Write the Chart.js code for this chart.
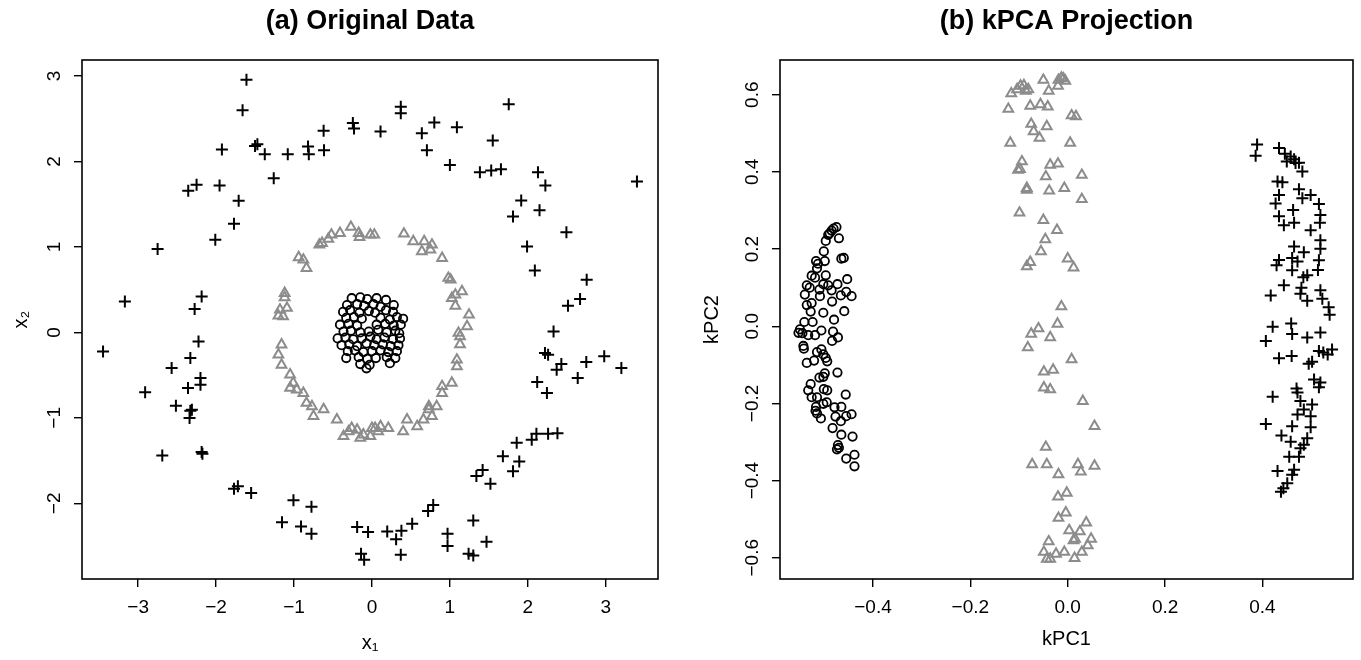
<!DOCTYPE html>
<html>
<head>
<meta charset="utf-8">
<script src="https://cdn.jsdelivr.net/npm/chart.js@4"></script>
<style>
  html, body { margin: 0; padding: 0; background: #fff; }
  #wrap { position: relative; width: 1361px; height: 660px; }
  #left { position: absolute; left: 0; top: 0; }
  #right { position: absolute; left: 680px; top: 0; }
</style>
</head>
<body>
<div id="wrap">
  <canvas id="left" width="680" height="660"></canvas>
  <canvas id="right" width="681" height="660"></canvas>
</div>
<script>
// (a) original data: inner blob, middle ring, outer ring
const origCircles = [
  [-0.26, 0.40], [-0.15, 0.41], [-0.06, 0.39], [0.06, 0.40], [0.18, 0.38],
  [-0.32, 0.32], [-0.19, 0.33], [-0.10, 0.31], [0.02, 0.33], [0.11, 0.30], [0.28, 0.32],
  [-0.37, 0.24], [-0.28, 0.26], [-0.16, 0.23], [-0.04, 0.25], [0.04, 0.23], [0.18, 0.26], [0.27, 0.24],
  [-0.33, 0.17], [-0.23, 0.18], [-0.13, 0.16], [0.11, 0.17], [0.23, 0.15], [0.32, 0.18], [0.40, 0.16],
  [-0.41, 0.09], [-0.30, 0.10], [-0.19, 0.08], [0.06, 0.09], [0.17, 0.10], [0.28, 0.08], [0.37, 0.09],
  [-0.365, 0.01], [-0.27, 0.02], [-0.15, 0.00], [-0.04, 0.01], [0.08, 0.03], [0.19, 0.00], [0.30, 0.02], [0.35, -0.01],
  [-0.44, -0.07], [-0.34, -0.06], [-0.24, -0.08], [-0.13, -0.07], [-0.02, -0.05], [0.06, -0.08], [0.16, -0.06], [0.27, -0.08], [0.36, -0.07],
  [-0.39, -0.15], [-0.29, -0.14], [-0.19, -0.16], [-0.07, -0.13], [0.03, -0.15], [0.14, -0.14], [0.24, -0.16], [0.34, -0.15],
  [-0.31, -0.22], [-0.22, -0.21], [-0.11, -0.23], [0.00, -0.22], [0.11, -0.21], [0.21, -0.23], [0.32, -0.22],
  [-0.33, -0.30], [-0.17, -0.29], [-0.06, -0.31], [0.05, -0.30], [0.19, -0.29], [0.30, -0.30],
  [-0.15, -0.37], [-0.03, -0.38], [0.23, -0.36],
  [-0.07, -0.42]
];
const origTriangles = [
  [-0.27, 1.233], [-0.41, 1.162], [-0.52, 1.142], [-0.56, 1.092], [-0.64, 1.045], [-0.675, 1.025],
  [-0.17, 1.162], [-0.16, 1.115], [-0.02, 1.142], [0.03, 1.142], [0.41, 1.154], [0.53, 1.065],
  [0.67, 1.065], [0.77, 1.025], [0.64, 0.947], [0.75, 0.967], [0.90, 0.869], [-0.94, 0.877],
  [-0.88, 0.85], [-0.84, 0.752], [0.98, 0.636], [1.01, 0.616], [1.155, 0.48], [1.07, 0.44],
  [1.025, 0.40], [1.07, 0.31], [1.245, 0.206], [1.22, 0.07], [1.11, -0.007], [1.13, -0.14],
  [1.09, -0.32], [1.09, -0.397], [1.025, -0.59], [0.90, -0.63], [0.90, -0.71], [0.83, -0.865],
  [0.73, -0.90], [0.77, -0.98], [0.66, -1.02], [0.58, -1.10], [0.45, -1.02], [0.40, -1.16],
  [0.21, -1.12], [0.08, -1.16], [0.00, -1.12], [-0.02, -1.215], [-0.11, -1.197], [-0.15, -1.236],
  [-0.26, -1.12], [-0.30, -1.16], [-0.365, -1.215], [-0.45, -1.02], [-0.62, -0.90], [-0.75, -0.98],
  [-0.77, -0.865], [-0.84, -0.826], [-0.88, -0.71], [-0.965, -0.67], [-1.05, -0.65], [-1.01, -0.59],
  [-1.05, -0.495], [-1.16, -0.38], [-1.20, -0.26], [-1.16, -0.144], [-1.09, 0.285], [-1.18, 0.265],
  [-1.20, 0.195], [-1.14, 0.187], [-1.12, 0.41], [-1.12, 0.46], [0.04, -1.12], [-0.19, -1.14],
  [0.11, -1.10], [0.73, -0.865], [1.13, -0.046]
];
const origCrosses = [
  [-1.61, 2.955], [-1.66, 2.60], [-1.925, 2.14], [-1.47, 2.20], [-1.50, 2.18], [-1.375, 2.085],
  [-1.08, 2.085], [-0.82, 2.175], [-0.81, 2.085], [-0.615, 2.13], [-0.62, 2.36], [-0.245, 2.45],
  [-0.23, 2.385], [0.11, 2.35], [0.37, 2.64], [0.37, 2.565], [0.64, 2.33], [0.80, 2.456],
  [0.705, 2.13], [1.09, 2.40], [1.00, 1.96], [1.755, 2.67], [1.55, 2.245], [1.385, 1.875],
  [1.53, 1.895], [1.655, 1.91], [2.13, 1.875], [2.225, 1.72], [3.40, 1.766], [1.915, 1.544],
  [2.15, 1.43], [1.81, 1.357], [2.495, 1.173], [1.99, 1.006], [2.09, 0.725], [2.755, 0.616],
  [2.515, 0.312], [2.67, 0.39], [2.33, 0.012], [-2.357, 1.657], [-2.25, 1.727], [-1.955, 1.72],
  [-1.71, 1.54], [-1.77, 1.27], [-2.01, 1.084], [-2.75, 0.975], [-1.26, 1.805], [-3.17, 0.363],
  [-2.185, 0.42], [-2.275, 0.273], [-2.225, -0.105],
  [-3.45, -0.222], [-2.33, -0.30], [-2.57, -0.417], [-2.91, -0.70], [-2.20, -0.534], [-2.20, -0.612],
  [-2.36, -0.65], [-2.515, -0.858], [-2.31, -0.905], [-2.34, -1.00], [-2.33, -0.916], [-2.69, -1.44],
  [-2.185, -1.40], [-2.175, -1.42], [-1.77, -1.83], [-1.72, -1.80], [-1.55, -1.88], [-1.007, -1.965],
  [-0.776, -2.04], [-1.154, -2.22], [-0.91, -2.27], [-0.776, -2.355], [-0.19, -2.277], [-0.05, -2.335],
  [-0.14, -2.59], [-0.10, -2.66], [0.196, -2.33], [0.378, -2.32], [0.31, -2.42], [0.37, -2.60],
  [0.516, -2.24], [0.72, -2.09], [0.786, -2.02], [0.97, -2.355], [0.97, -2.50], [1.30, -2.20],
  [1.24, -2.59], [1.30, -2.61], [1.47, -2.45], [1.34, -1.68], [1.42, -1.61], [1.52, -1.77],
  [1.68, -1.45], [1.81, -1.625], [1.89, -1.51], [1.857, -1.29], [2.05, -1.255], [2.11, -1.185],
  [2.26, -1.185], [2.38, -1.18], [2.22, -0.24], [2.26, -0.26], [2.43, -0.37], [2.37, -0.437],
  [2.75, -0.347], [2.98, -0.28], [3.20, -0.417], [2.64, -0.534], [2.12, -0.58], [2.245, -0.71]
];

// (b) kPCA projection
const kpcaCircles = [
  [-0.475, 0.257], [-0.481, 0.253], [-0.485, 0.248], [-0.489, 0.241], [-0.492, 0.237], [-0.470, 0.228],
  [-0.497, 0.221], [-0.501, 0.194], [-0.465, 0.175], [-0.460, 0.177], [-0.517, 0.169], [-0.499, 0.169],
  [-0.513, 0.162], [-0.515, 0.150], [-0.526, 0.131], [-0.497, 0.132], [-0.453, 0.122], [-0.519, 0.126],
  [-0.536, 0.106], [-0.530, 0.100], [-0.502, 0.109], [-0.492, 0.106], [-0.473, 0.109], [-0.510, 0.095],
  [-0.485, 0.093], [-0.455, 0.089], [-0.466, 0.080], [-0.444, 0.078], [-0.540, 0.082], [-0.509, 0.078],
  [-0.484, 0.064], [-0.526, 0.060], [-0.536, 0.055], [-0.528, 0.038], [-0.459, 0.039], [-0.502, 0.035],
  [-0.541, 0.011], [-0.524, 0.011], [-0.480, 0.017], [-0.550, -0.008], [-0.545, -0.018], [-0.553, -0.017],
  [-0.533, -0.023], [-0.519, -0.023], [-0.506, -0.011], [-0.482, -0.014], [-0.472, -0.029], [-0.484, -0.038],
  [-0.543, -0.051], [-0.542, -0.058], [-0.515, -0.067], [-0.506, -0.060], [-0.502, -0.073], [-0.497, -0.082],
  [-0.494, -0.091], [-0.521, -0.089], [-0.536, -0.095], [-0.473, -0.120], [-0.499, -0.122], [-0.502, -0.131],
  [-0.510, -0.133], [-0.528, -0.150], [-0.533, -0.166], [-0.501, -0.163], [-0.494, -0.166], [-0.456, -0.177],
  [-0.526, -0.184], [-0.515, -0.184], [-0.495, -0.197], [-0.502, -0.201], [-0.517, -0.209], [-0.518, -0.219],
  [-0.515, -0.226], [-0.507, -0.239], [-0.479, -0.210], [-0.465, -0.209], [-0.477, -0.234], [-0.466, -0.246],
  [-0.455, -0.233], [-0.444, -0.228], [-0.483, -0.264], [-0.465, -0.281], [-0.442, -0.286], [-0.472, -0.308],
  [-0.470, -0.315], [-0.474, -0.319], [-0.455, -0.343], [-0.438, -0.333], [-0.438, -0.363]
];
const kpcaTriangles = [
  [-0.013, 0.644], [-0.009, 0.642], [-0.019, 0.638], [-0.005, 0.636], [-0.020, 0.623], [-0.050, 0.638],
  [-0.039, 0.610], [-0.081, 0.614], [-0.090, 0.624], [-0.097, 0.623], [-0.104, 0.614], [-0.116, 0.603],
  [-0.086, 0.610], [-0.122, 0.563], [-0.077, 0.571], [-0.056, 0.575], [-0.041, 0.569], [0.008, 0.546],
  [0.017, 0.544], [-0.075, 0.524], [-0.070, 0.505], [-0.043, 0.518], [-0.058, 0.488], [-0.118, 0.475],
  [0.005, 0.475], [-0.094, 0.427], [-0.102, 0.405], [-0.098, 0.407], [-0.036, 0.418], [-0.020, 0.421],
  [-0.045, 0.388], [0.029, 0.392], [-0.084, 0.358], [-0.084, 0.353], [-0.038, 0.351], [-0.007, 0.358],
  [0.029, 0.329], [-0.099, 0.294], [-0.050, 0.275], [-0.022, 0.249], [-0.046, 0.225], [-0.055, 0.194],
  [-0.077, 0.166], [-0.084, 0.155], [0.000, 0.175], [0.012, 0.152], [-0.013, 0.051],
  [-0.021, 0.006], [-0.060, -0.006], [-0.075, -0.020], [-0.036, -0.029], [-0.082, -0.055], [0.008, -0.086],
  [-0.049, -0.118], [-0.030, -0.113], [-0.049, -0.159], [-0.036, -0.164], [0.031, -0.194], [0.055, -0.259],
  [-0.045, -0.313], [-0.073, -0.358], [-0.043, -0.358], [0.021, -0.358], [0.027, -0.377], [0.055, -0.362],
  [-0.019, -0.384], [-0.020, -0.442], [-0.002, -0.432], [-0.019, -0.497], [-0.004, -0.483], [0.038, -0.509],
  [0.003, -0.529], [0.025, -0.532], [0.015, -0.551], [0.012, -0.555], [0.048, -0.551], [-0.039, -0.558],
  [0.041, -0.568], [0.029, -0.585], [-0.007, -0.585], [-0.024, -0.590], [-0.049, -0.585], [-0.043, -0.603],
  [0.014, -0.601], [-0.036, -0.603]
];
const kpcaCrosses = [
  [0.389, 0.471], [0.386, 0.442], [0.434, 0.462], [0.446, 0.447], [0.458, 0.440], [0.450, 0.427],
  [0.465, 0.433], [0.468, 0.423], [0.475, 0.424], [0.482, 0.401], [0.431, 0.375], [0.441, 0.373],
  [0.475, 0.355], [0.434, 0.340], [0.482, 0.332], [0.499, 0.340], [0.427, 0.318], [0.516, 0.317],
  [0.463, 0.301], [0.434, 0.285], [0.519, 0.288], [0.444, 0.262], [0.465, 0.268], [0.518, 0.268],
  [0.499, 0.249], [0.519, 0.223], [0.465, 0.207], [0.519, 0.201], [0.485, 0.192], [0.461, 0.177],
  [0.434, 0.172], [0.472, 0.168], [0.429, 0.158], [0.516, 0.171], [0.461, 0.145], [0.492, 0.132],
  [0.484, 0.127], [0.514, 0.146], [0.444, 0.106], [0.480, 0.100], [0.478, 0.084], [0.417, 0.080],
  [0.492, 0.066], [0.519, 0.093], [0.523, 0.071], [0.536, 0.049],
  [0.538, 0.030], [0.421, -0.001], [0.459, 0.007], [0.461, -0.020], [0.407, -0.038], [0.492, -0.029],
  [0.519, -0.016], [0.434, -0.083], [0.460, -0.077], [0.495, -0.097], [0.502, -0.092], [0.516, -0.064],
  [0.525, -0.068], [0.534, -0.073], [0.543, -0.060], [0.506, -0.138], [0.519, -0.146], [0.516, -0.158],
  [0.470, -0.161], [0.472, -0.172], [0.421, -0.183], [0.478, -0.194], [0.485, -0.216], [0.502, -0.203],
  [0.472, -0.229], [0.499, -0.233], [0.407, -0.253], [0.461, -0.259], [0.499, -0.262], [0.439, -0.283],
  [0.458, -0.299], [0.492, -0.290], [0.485, -0.307], [0.478, -0.316], [0.475, -0.338], [0.455, -0.338],
  [0.431, -0.375], [0.465, -0.372], [0.461, -0.385], [0.451, -0.407], [0.443, -0.420], [0.438, -0.429]
];

// tick positions
const origXTicks = [-3, -2, -1, 0, 1, 2, 3];
const origYTicks = [-2, -1, 0, 1, 2, 3];
const kpcaXTicks = [-0.4, -0.2, 0.0, 0.2, 0.4];
const kpcaYTicks = [-0.6, -0.4, -0.2, 0.0, 0.2, 0.4, 0.6];

const FONT = '"Liberation Sans", Arial, Helvetica, sans-serif';
const GREY = '#8c8c8c';

function fmt(v, digits) {
  const s = Math.abs(v).toFixed(digits);
  return (v < -1e-9 ? '\u2212' : '') + s;
}

function pts(list) {
  return list.map(p => ({ x: p[0], y: p[1] }));
}

// box around the plot, panel title, and R-style rotated y tick labels
const rFrame = {
  id: 'rFrame',
  afterDraw(chart, args, opts) {
    const { ctx, chartArea: a } = chart;
    const ys = chart.scales.y;
    ctx.save();
    ctx.strokeStyle = '#000';
    ctx.lineWidth = 1.6;
    ctx.strokeRect(a.left, a.top, a.right - a.left, a.bottom - a.top);

    ctx.fillStyle = '#000';
    ctx.textAlign = 'center';
    ctx.textBaseline = 'middle';
    ctx.font = 'bold 27px ' + FONT;
    ctx.fillText(opts.title, (a.left + a.right) / 2, 22);

    ctx.font = '19px ' + FONT;
    ys.ticks.forEach(t => {
      const py = ys.getPixelForValue(t.value);
      ctx.save();
      ctx.translate(a.left - 27, py);
      ctx.rotate(-Math.PI / 2);
      ctx.fillText(fmt(t.value, opts.digits), 0, 0);
      ctx.restore();
    });
    ctx.restore();
  }
};

function makeChart(id, sets, cfg) {
  const datasets = [
    { data: pts(sets.circles), pointStyle: 'circle', pointRadius: 4.2, borderColor: '#000', borderWidth: 1.8 },
    { data: pts(sets.triangles), pointStyle: 'triangle', pointRadius: 5.6, borderColor: GREY, borderWidth: 2 },
    { data: pts(sets.crosses), pointStyle: 'cross', pointRadius: 6, borderColor: '#000', borderWidth: 2 }
  ].map(d => Object.assign(d, { backgroundColor: 'rgba(0,0,0,0)', showLine: false }));

  const grid = { display: true, drawOnChartArea: false, drawTicks: true, tickLength: 8, color: '#000', lineWidth: 1.4 };

  return new Chart(document.getElementById(id), {
    type: 'scatter',
    data: { datasets },
    options: {
      responsive: false,
      animation: false,
      events: [],
      layout: { padding: { left: 0, right: cfg.padRight, top: 60, bottom: 0 } },
      plugins: {
        legend: { display: false },
        tooltip: { enabled: false },
        title: { display: false },
        rFrame: { title: cfg.title, digits: cfg.digits }
      },
      scales: {
        x: {
          type: 'linear',
          min: cfg.xMin, max: cfg.xMax,
          afterBuildTicks: s => { s.ticks = cfg.xTicks.map(v => ({ value: v })); },
          afterFit: s => { s.height = 81; },
          grid, border: { display: false },
          ticks: {
            color: '#000', font: { family: FONT, size: 19 }, padding: 9,
            maxRotation: 0, autoSkip: false,
            callback: v => fmt(v, cfg.digits)
          },
          title: { display: true, text: cfg.xTitle, color: '#000', font: { family: FONT, size: 20 }, padding: cfg.xTitlePad }
        },
        y: {
          type: 'linear',
          min: cfg.yMin, max: cfg.yMax,
          afterBuildTicks: s => { s.ticks = cfg.yTicks.map(v => ({ value: v })); },
          afterFit: s => { s.width = cfg.yWidth; },
          grid, border: { display: false },
          ticks: { display: false },
          title: { display: true, text: cfg.yTitle, color: '#000', font: { family: FONT, size: 20 }, padding: cfg.yTitlePad }
        }
      }
    },
    plugins: [rFrame]
  });
}

makeChart('left',
  { circles: origCircles, triangles: origTriangles, crosses: origCrosses },
  { title: '(a) Original Data', xTitle: 'x\u2081', yTitle: 'x\u2082', digits: 0,
    xMin: -3.72, xMax: 3.67, yMin: -2.885, yMax: 3.187,
    xTicks: origXTicks, yTicks: origYTicks, yWidth: 82, yTitlePad: 9, xTitlePad: 5, padRight: 22 });

makeChart('right',
  { circles: kpcaCircles, triangles: kpcaTriangles, crosses: kpcaCrosses },
  { title: '(b) kPCA Projection', xTitle: 'kPC1', yTitle: 'kPC2', digits: 1,
    xMin: -0.591, xMax: 0.586, yMin: -0.655, yMax: 0.69,
    xTicks: kpcaXTicks, yTicks: kpcaYTicks, yWidth: 100, yTitlePad: 20, xTitlePad: 9, padRight: 5 });
</script>
</body>
</html>
